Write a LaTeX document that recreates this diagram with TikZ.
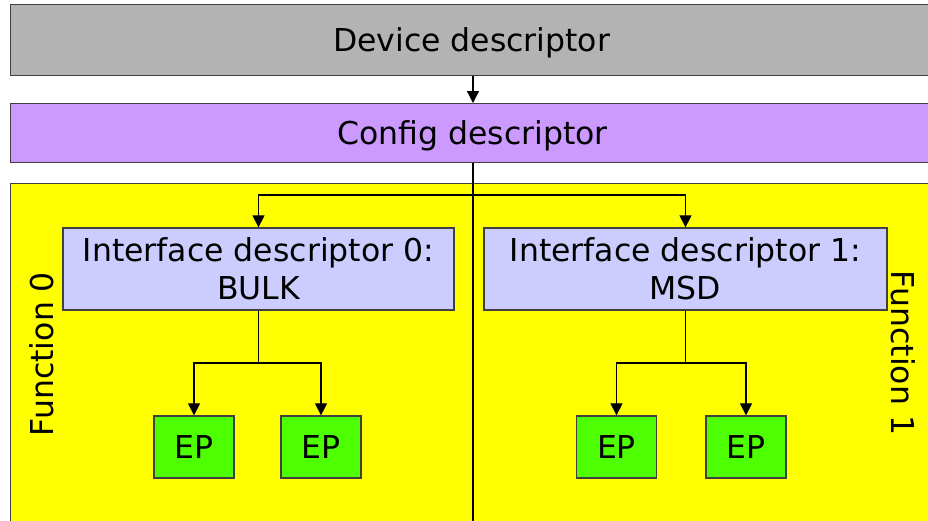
\documentclass[tikz,border=0pt]{standalone}
\usepackage{fontspec}
\setmainfont{DejaVu Sans}
\usetikzlibrary{arrows.meta}
\definecolor{devgray}{HTML}{B3B3B3}
\definecolor{cfgpurple}{HTML}{CC99FF}
\definecolor{funyellow}{HTML}{FFFF00}
\definecolor{iflav}{HTML}{CCCCFF}
\definecolor{epgreen}{HTML}{4DFF00}
\begin{document}
\begin{tikzpicture}[x=1pt,y=-1pt,
  box/.style={draw=black!75, line width=1.3pt, inner sep=0pt,
    font=\fontsize{31.5}{38}\selectfont, align=center},
  oneline/.style={box, text height=23pt, text depth=0pt},
  lbl/.style={inner sep=0pt, font=\fontsize{31.5}{38}\selectfont},
  conn/.style={line width=1.2pt, draw=black},
  arr/.style={conn, -{Triangle[length=12pt,width=12pt]}}]
\useasboundingbox (0,0) rectangle (928,520);
\clip (0,0) rectangle (928,520);
% regions
\node[box, fill=funyellow, anchor=north west, minimum width=940pt, minimum height=360pt] (fun) at (10,183) {};
\node[oneline, fill=devgray, anchor=north west, minimum width=922pt, minimum height=71pt] (dev) at (10,4) {Device descriptor};
\node[oneline, fill=cfgpurple, anchor=north west, minimum width=924pt, minimum height=59pt] (cfg) at (10,103) {Config descriptor};
% interfaces
\node[box, fill=iflav, minimum width=391pt, minimum height=82pt] (if0) at (258.5,269) {Interface descriptor 0:\\BULK};
\node[box, fill=iflav, minimum width=403pt, minimum height=82pt] (if1) at (685.5,269) {Interface descriptor 1:\\MSD};
% endpoints
\node[box, fill=epgreen, minimum width=80pt, minimum height=62pt] (ep1) at (194,447) {EP};
\node[box, fill=epgreen, minimum width=80pt, minimum height=62pt] (ep2) at (321,447) {EP};
\node[box, fill=epgreen, minimum width=80pt, minimum height=62pt] (ep3) at (616.5,447) {EP};
\node[box, fill=epgreen, minimum width=80pt, minimum height=62pt] (ep4) at (746,447) {EP};
% function labels
\node[lbl, rotate=90] (f0) at (42,354) {Function 0};
\node[lbl, rotate=-90] (f1) at (903,353) {Function 1};
% coordinates
\coordinate (spine) at (473,0);
\coordinate (bottom) at (473,530);
\coordinate (hub) at (473,195);
\coordinate (j0) at (258.5,363);
\coordinate (j1) at (685.5,363);
% connectors
\draw[arr] (dev.south -| spine) -- (cfg.north -| spine);
\draw[conn] (cfg.south -| spine) -- (bottom);
\draw[arr] (hub) -| (if0.north);
\draw[arr] (hub) -| (if1.north);
\draw[conn] (if0.south) -- (j0);
\draw[arr] (j0) -| (ep1.north);
\draw[arr] (j0) -| (ep2.north);
\draw[conn] (if1.south) -- (j1);
\draw[arr] (j1) -| (ep3.north);
\draw[arr] (j1) -| (ep4.north);
\end{tikzpicture}
\end{document}
